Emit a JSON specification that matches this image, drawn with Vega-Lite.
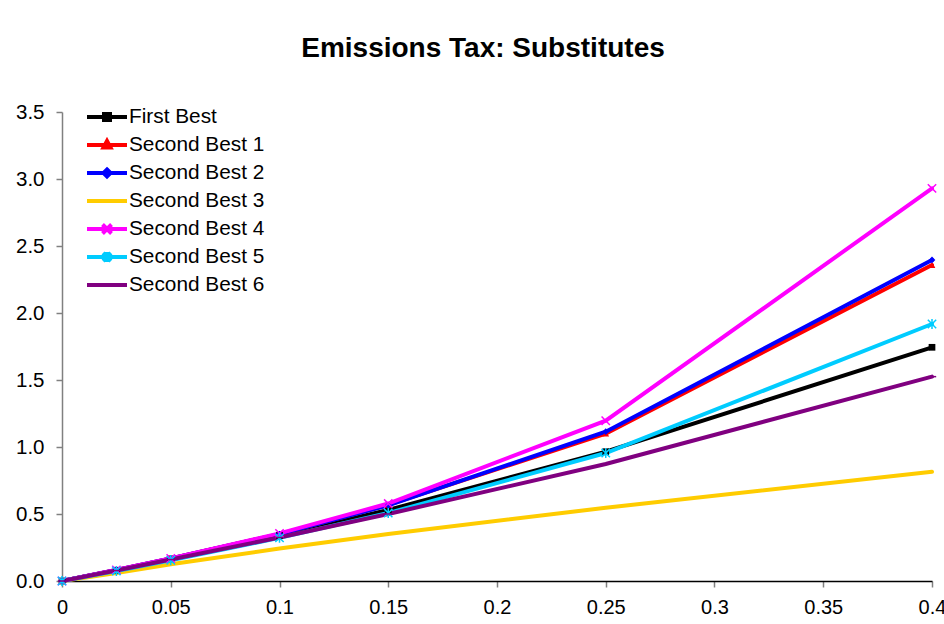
{
  "$schema": "https://vega.github.io/schema/vega-lite/v6.json",
  "width": 870,
  "height": 469,
  "autosize": "none",
  "padding": {"left": 62, "top": 112, "right": 12, "bottom": 43},
  "background": "white",
  "config": {
    "view": {"stroke": null},
    "font": "Liberation Sans"
  },
  "title": {
    "text": "Emissions Tax: Substitutes",
    "font": "Liberation Sans",
    "fontSize": 28,
    "fontWeight": "bold",
    "color": "black",
    "anchor": "middle",
    "frame": "group",
    "baseline": "alphabetic",
    "offset": 17,
    "dx": -14
  },
  "data": {
    "values": [
      {"series": "First Best", "t": 0, "v": 0},
      {"series": "First Best", "t": 0.025, "v": 0.08},
      {"series": "First Best", "t": 0.05, "v": 0.165},
      {"series": "First Best", "t": 0.1, "v": 0.34},
      {"series": "First Best", "t": 0.15, "v": 0.53},
      {"series": "First Best", "t": 0.25, "v": 0.965},
      {"series": "First Best", "t": 0.4, "v": 1.744},
      {"series": "Second Best 1", "t": 0, "v": 0},
      {"series": "Second Best 1", "t": 0.025, "v": 0.083},
      {"series": "Second Best 1", "t": 0.05, "v": 0.168},
      {"series": "Second Best 1", "t": 0.1, "v": 0.35},
      {"series": "Second Best 1", "t": 0.15, "v": 0.568},
      {"series": "Second Best 1", "t": 0.25, "v": 1.1},
      {"series": "Second Best 1", "t": 0.4, "v": 2.358},
      {"series": "Second Best 2", "t": 0, "v": 0},
      {"series": "Second Best 2", "t": 0.025, "v": 0.083},
      {"series": "Second Best 2", "t": 0.05, "v": 0.168},
      {"series": "Second Best 2", "t": 0.1, "v": 0.35},
      {"series": "Second Best 2", "t": 0.15, "v": 0.565},
      {"series": "Second Best 2", "t": 0.25, "v": 1.114},
      {"series": "Second Best 2", "t": 0.4, "v": 2.396},
      {"series": "Second Best 3", "t": 0, "v": 0},
      {"series": "Second Best 3", "t": 0.025, "v": 0.06},
      {"series": "Second Best 3", "t": 0.05, "v": 0.125},
      {"series": "Second Best 3", "t": 0.1, "v": 0.242},
      {"series": "Second Best 3", "t": 0.15, "v": 0.35},
      {"series": "Second Best 3", "t": 0.25, "v": 0.547},
      {"series": "Second Best 3", "t": 0.4, "v": 0.815},
      {"series": "Second Best 4", "t": 0, "v": 0},
      {"series": "Second Best 4", "t": 0.025, "v": 0.083},
      {"series": "Second Best 4", "t": 0.05, "v": 0.168},
      {"series": "Second Best 4", "t": 0.1, "v": 0.355},
      {"series": "Second Best 4", "t": 0.15, "v": 0.578},
      {"series": "Second Best 4", "t": 0.25, "v": 1.196},
      {"series": "Second Best 4", "t": 0.4, "v": 2.93},
      {"series": "Second Best 5", "t": 0, "v": 0},
      {"series": "Second Best 5", "t": 0.025, "v": 0.075},
      {"series": "Second Best 5", "t": 0.05, "v": 0.155},
      {"series": "Second Best 5", "t": 0.1, "v": 0.322},
      {"series": "Second Best 5", "t": 0.15, "v": 0.507},
      {"series": "Second Best 5", "t": 0.25, "v": 0.955},
      {"series": "Second Best 5", "t": 0.4, "v": 1.918},
      {"series": "Second Best 6", "t": 0, "v": 0},
      {"series": "Second Best 6", "t": 0.025, "v": 0.078},
      {"series": "Second Best 6", "t": 0.05, "v": 0.16},
      {"series": "Second Best 6", "t": 0.1, "v": 0.325},
      {"series": "Second Best 6", "t": 0.15, "v": 0.5},
      {"series": "Second Best 6", "t": 0.25, "v": 0.873},
      {"series": "Second Best 6", "t": 0.4, "v": 1.525}
    ]
  },
  "encoding": {
    "x": {
      "field": "t",
      "type": "quantitative",
      "scale": {"domain": [0, 0.4], "nice": false, "zero": false},
      "axis": {
        "title": null,
        "values": [0, 0.05, 0.1, 0.15, 0.2, 0.25, 0.3, 0.35, 0.4],
        "format": "~g",
        "grid": false,
        "domainColor": "black",
        "domainWidth": 1.5,
        "tickColor": "#808080",
        "tickSize": 6,
        "tickWidth": 1.5,
        "labelFont": "Liberation Sans",
        "labelFontSize": 20,
        "labelColor": "black",
        "labelPadding": 10,
        "labelFlush": false,
        "labelOverlap": false,
        "labelBound": false
      }
    },
    "y": {
      "field": "v",
      "type": "quantitative",
      "scale": {"domain": [0, 3.5], "nice": false},
      "axis": {
        "title": null,
        "values": [0, 0.5, 1, 1.5, 2, 2.5, 3, 3.5],
        "format": ".1f",
        "grid": false,
        "domainColor": "#808080",
        "domainWidth": 1.5,
        "tickColor": "#808080",
        "tickSize": 6,
        "tickWidth": 1.5,
        "labelFont": "Liberation Sans",
        "labelFontSize": 20.5,
        "labelColor": "black",
        "labelPadding": 12,
        "labelFlush": false,
        "labelOverlap": false,
        "labelBound": false
      }
    },
    "color": {
      "field": "series",
      "type": "nominal",
      "sort": ["First Best", "Second Best 1", "Second Best 2", "Second Best 3", "Second Best 4", "Second Best 5", "Second Best 6"],
      "scale": {
        "domain": ["First Best", "Second Best 1", "Second Best 2", "Second Best 3", "Second Best 4", "Second Best 5", "Second Best 6"],
        "range": ["#000000", "#FF0000", "#0000FF", "#FFCC00", "#FF00FF", "#00CCFF", "#800080"]
      }
    }
  },
  "layer": [
    {
      "mark": {"type": "line", "strokeCap": "round"},
      "encoding": {
        "strokeWidth": {
          "field": "series",
          "type": "nominal",
          "scale": {
            "domain": ["First Best", "Second Best 1", "Second Best 2", "Second Best 3", "Second Best 4", "Second Best 5", "Second Best 6"],
            "range": [4, 4, 4.5, 4, 2.2, 2.8, 2.8]
          },
          "legend": null
        },
        "color": {
          "field": "series",
          "type": "nominal",
          "sort": ["First Best", "Second Best 1", "Second Best 2", "Second Best 3", "Second Best 4", "Second Best 5", "Second Best 6"],
          "legend": {
            "title": null,
            "orient": "none",
            "legendX": 33,
            "legendY": -7,
            "padding": 0,
            "labelFont": "Liberation Sans",
            "labelFontSize": 20.8,
            "labelColor": "black",
            "labelOffset": 10,
            "symbolSize": 400,
            "gridAlign": "all",
            "rowPadding": 2,
            "encode": {
              "symbols": {
                "update": {
                  "shape": {"signal": "datum.value === 'First Best' ? 'M-2,0H2M-0.3,-0.3H0.3V0.3H-0.3Z' : datum.value === 'Second Best 1' ? 'M-2,0H2M0,-0.4L0.35,0.25H-0.35Z' : datum.value === 'Second Best 2' ? 'M-2,0H2M0,-0.35L0.35,0L0,0.35L-0.35,0Z' : datum.value === 'Second Best 4' ? 'M-2,0H2M-0.45,-0.45L0.45,0.45M0.45,-0.45L-0.45,0.45' : datum.value === 'Second Best 5' ? 'M-2,0H2M-0.4,-0.4L0.4,0.4M0.4,-0.4L-0.4,0.4M0,-0.5V0.5' : 'M-2,0H2'"},
                  "size": {"value": 400},
                  "stroke": {"signal": "scale('color', datum.value)"},
                  "fill": {"signal": "scale('color', datum.value)"},
                  "strokeWidth": {"signal": "indexof(['First Best','Second Best 1','Second Best 2','Second Best 3'], datum.value) >= 0 ? 3.5 : 2"},
                  "opacity": {"value": 1},
                  "fillOpacity": {"value": 1},
                  "strokeOpacity": {"value": 1}
                }
              }
            }
          }
        }
      }
    },
    {
      "transform": [{"filter": "indexof(['First Best','Second Best 1','Second Best 2'], datum.series) >= 0"}],
      "mark": {"type": "point", "filled": true, "opacity": 1, "size": 45},
      "encoding": {
        "shape": {
          "field": "series",
          "type": "nominal",
          "scale": {
            "domain": ["First Best", "Second Best 1", "Second Best 2", "Second Best 4", "Second Best 5", "Second Best 6"],
            "range": ["square", "triangle-up", "diamond", "M-1,-1L1,1M1,-1L-1,1", "M-1,-1L1,1M1,-1L-1,1M0,-1.2V1.2", "M-1,0H1"]
          },
          "legend": null
        }
      }
    },
    {
      "transform": [{"filter": "indexof(['Second Best 4','Second Best 5','Second Best 6'], datum.series) >= 0"}],
      "mark": {"type": "point", "filled": false, "opacity": 1, "size": 70, "strokeWidth": 1.5},
      "encoding": {
        "shape": {
          "field": "series",
          "type": "nominal",
          "scale": {
            "domain": ["First Best", "Second Best 1", "Second Best 2", "Second Best 4", "Second Best 5", "Second Best 6"],
            "range": ["square", "triangle-up", "diamond", "M-1,-1L1,1M1,-1L-1,1", "M-1,-1L1,1M1,-1L-1,1M0,-1.2V1.2", "M-1,0H1"]
          },
          "legend": null
        }
      }
    }
  ]
}
